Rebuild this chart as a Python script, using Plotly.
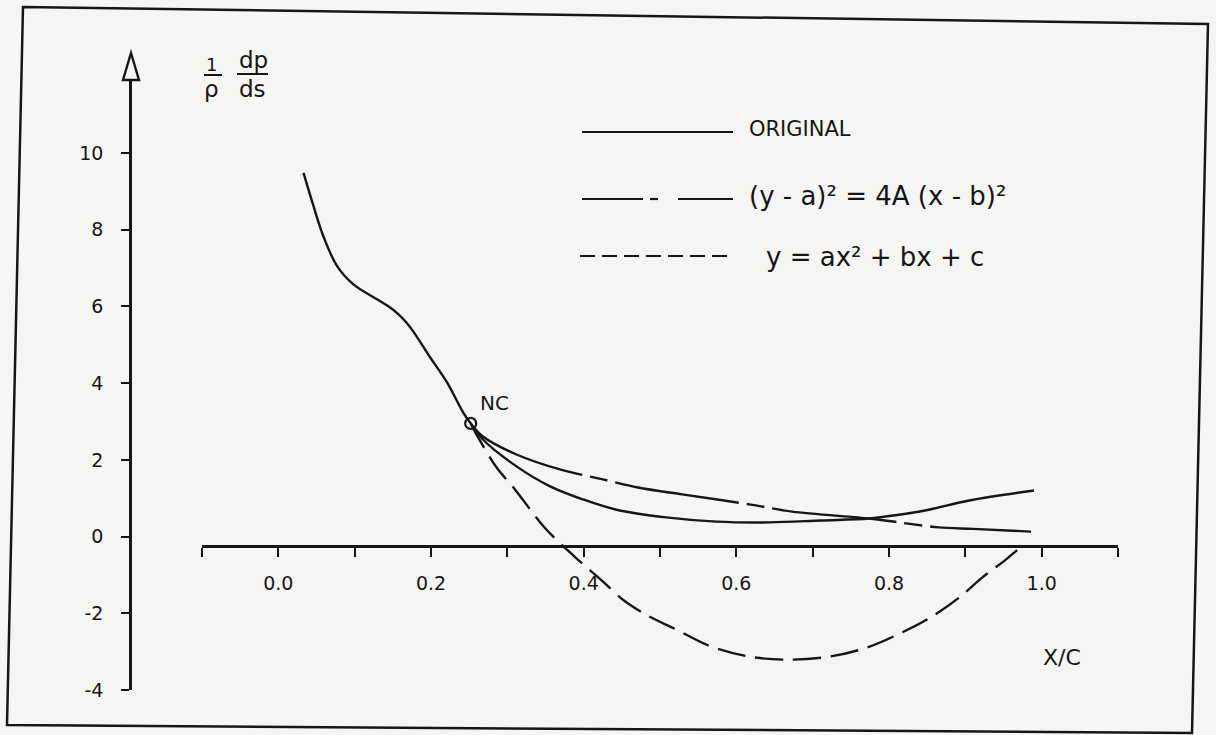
import plotly.graph_objects as go

W, H = 1216, 735          # reference picture size (coordinates below are read in it)
FIG_H = 746               # figure height; the page photo squeezes the height by ~1.5 %

# ---- data ----
orig_x = [0.033, 0.046, 0.059, 0.077, 0.098, 0.133, 0.145, 0.156, 0.166, 0.176, 0.198, 0.221, 0.242, 0.252,
          0.268, 0.312, 0.356, 0.399, 0.443, 0.508, 0.574, 0.643, 0.711, 0.774, 0.813, 0.852, 0.905, 0.990]
orig_y = [9.48, 8.62, 7.83, 7.05, 6.58, 6.14, 5.99, 5.82, 5.62, 5.37, 4.70, 4.02, 3.24, 2.95,
          2.53, 1.83, 1.31, 0.97, 0.70, 0.50, 0.39, 0.37, 0.42, 0.47, 0.57, 0.70, 0.94, 1.20]

conic_x = [0.252, 0.268, 0.312, 0.369, 0.425, 0.471, 0.529, 0.617, 0.673, 0.774, 0.813, 0.865, 0.910, 0.986]
conic_y = [2.95, 2.61, 2.14, 1.75, 1.49, 1.28, 1.10, 0.84, 0.65, 0.47, 0.37, 0.24, 0.20, 0.13]

quad_x = [0.252, 0.261, 0.286, 0.310, 0.349, 0.388, 0.425, 0.451, 0.482, 0.522, 0.565, 0.617,
          0.665, 0.722, 0.770, 0.816, 0.856, 0.892, 0.922, 0.953, 0.978]
quad_y = [2.95, 2.61, 1.80, 1.23, 0.23, -0.52, -1.17, -1.64, -2.04, -2.43, -2.85, -3.13,
          -3.21, -3.13, -2.90, -2.51, -2.09, -1.59, -1.07, -0.60, -0.18]

nc_x = [0.252]
nc_y = [2.95]

x_ticks = [-0.1, 0.0, 0.1, 0.2, 0.3, 0.4, 0.5, 0.6, 0.7, 0.8, 0.9, 1.0, 1.1]
x_tick_labels = ['', '0.0', '', '0.2', '', '0.4', '', '0.6', '', '0.8', '', '1.0', '']
y_ticks = [-4, -2, 0, 2, 4, 6, 8, 10]
y_tick_labels = ['-4', '-2', '0', '2', '4', '6', '8', '10']

legend_labels = ['ORIGINAL', '(y - a)² = 4A (x - b)²', 'y = ax² + bx + c']

INK = '#161616'
PAPER = '#f5f5f3'
FONT = 'DejaVu Sans'


def px(xp):
    return xp / W


def py(yp):
    return 1 - yp / H


fig = go.Figure()

fig.add_trace(go.Scatter(x=orig_x, y=orig_y, mode='lines', name=legend_labels[0],
                         line=dict(color=INK, width=2.4, shape='spline', smoothing=1.0)))
fig.add_trace(go.Scatter(x=conic_x, y=conic_y, mode='lines', name=legend_labels[1],
                         line=dict(color=INK, width=2.4, shape='spline', smoothing=0.9,
                                   dash='125px,8px,18px,8px')))
fig.add_trace(go.Scatter(x=quad_x, y=quad_y, mode='lines', name=legend_labels[2],
                         line=dict(color=INK, width=2.4, shape='spline', smoothing=0.9,
                                   dash='28px,10px')))
fig.add_trace(go.Scatter(x=nc_x, y=nc_y, mode='markers', name='NC',
                         marker=dict(symbol='circle-open', size=11, color=INK,
                                     line=dict(color=INK, width=2.2))))

shapes = []
# sheet border (slightly skewed, as drawn)
corners = [(23, 7), (1208, 24), (1192, 733), (7, 725)]
path = 'M ' + ' L '.join(f'{px(a):.5f},{py(b):.5f}' for a, b in corners) + ' Z'
shapes.append(dict(type='path', xref='paper', yref='paper', path=path,
                   line=dict(color=INK, width=2.5)))
# open arrow head on top of the y axis
tri = [(131, 53), (139, 80), (123, 80)]
path = 'M ' + ' L '.join(f'{px(a):.5f},{py(b):.5f}' for a, b in tri) + ' Z'
shapes.append(dict(type='path', xref='paper', yref='paper', path=path,
                   line=dict(color=INK, width=2.4)))
# fraction bars of the y label
for x0, x1, yy in [(204, 222, 75), (237, 268, 74)]:
    shapes.append(dict(type='line', xref='paper', yref='paper', x0=px(x0), x1=px(x1),
                       y0=py(yy), y1=py(yy), line=dict(color=INK, width=2)))
# legend samples
shapes.append(dict(type='line', xref='paper', yref='paper', x0=px(582), x1=px(733),
                   y0=py(132), y1=py(132), line=dict(color=INK, width=2.2)))
for x0, x1 in [(582, 643), (650, 658), (678, 733)]:
    shapes.append(dict(type='line', xref='paper', yref='paper', x0=px(x0), x1=px(x1),
                       y0=py(199), y1=py(199), line=dict(color=INK, width=2.2)))
shapes.append(dict(type='line', xref='paper', yref='paper', x0=px(580), x1=px(732),
                   y0=py(256), y1=py(256), line=dict(color=INK, width=2.2, dash='15px,7px')))

annotations = []


def text(t, xp, yp, size=18, xanchor='center'):
    annotations.append(dict(text=t, xref='paper', yref='paper', x=px(xp), y=py(yp),
                            xanchor=xanchor, yanchor='middle', showarrow=False,
                            font=dict(family=FONT, size=size, color=INK)))


text('1', 212, 64, 18)
text('ρ', 212, 89, 23)
text('dp', 253, 60, 23)
text('ds', 252, 89, 23)
text(legend_labels[0], 747, 129, 21, 'left')
text(legend_labels[1], 747, 196, 26, 'left')
text(legend_labels[2], 764, 257, 26, 'left')
text('NC', 494, 403, 20)
text('X/C', 1062, 657, 22)

fig.update_layout(
    width=W, height=FIG_H,
    margin=dict(l=0, r=0, t=0, b=0),
    paper_bgcolor=PAPER, plot_bgcolor=PAPER,
    showlegend=False,
    shapes=shapes, annotations=annotations,
    font=dict(family=FONT, color=INK),
    xaxis=dict(domain=[px(202), px(1118)], range=[-0.1, 1.1], anchor='free', position=py(546),
               showline=True, linewidth=2.5, linecolor=INK, showgrid=False, zeroline=False,
               ticks='outside', ticklen=9, tickwidth=2, tickcolor=INK,
               tickvals=x_ticks, ticktext=x_tick_labels, ticklabelstandoff=10,
               tickfont=dict(family=FONT, size=19, color=INK)),
    yaxis=dict(domain=[py(690), py(80)], range=[-4, 10 + (153 - 80) / 38.357], anchor='free',
               position=px(130),
               showline=True, linewidth=2.5, linecolor=INK, showgrid=False, zeroline=False,
               ticks='outside', ticklen=8, tickwidth=2, tickcolor=INK,
               tickvals=y_ticks, ticktext=y_tick_labels, ticklabelstandoff=14,
               tickfont=dict(family=FONT, size=19, color=INK)),
)

page_css = ("document.documentElement.style.margin='0';"
            "document.body.style.margin='0';"
            "document.body.style.background='" + PAPER + "';")

fig.write_html('out.html', config={'displayModeBar': False}, post_script=page_css)
